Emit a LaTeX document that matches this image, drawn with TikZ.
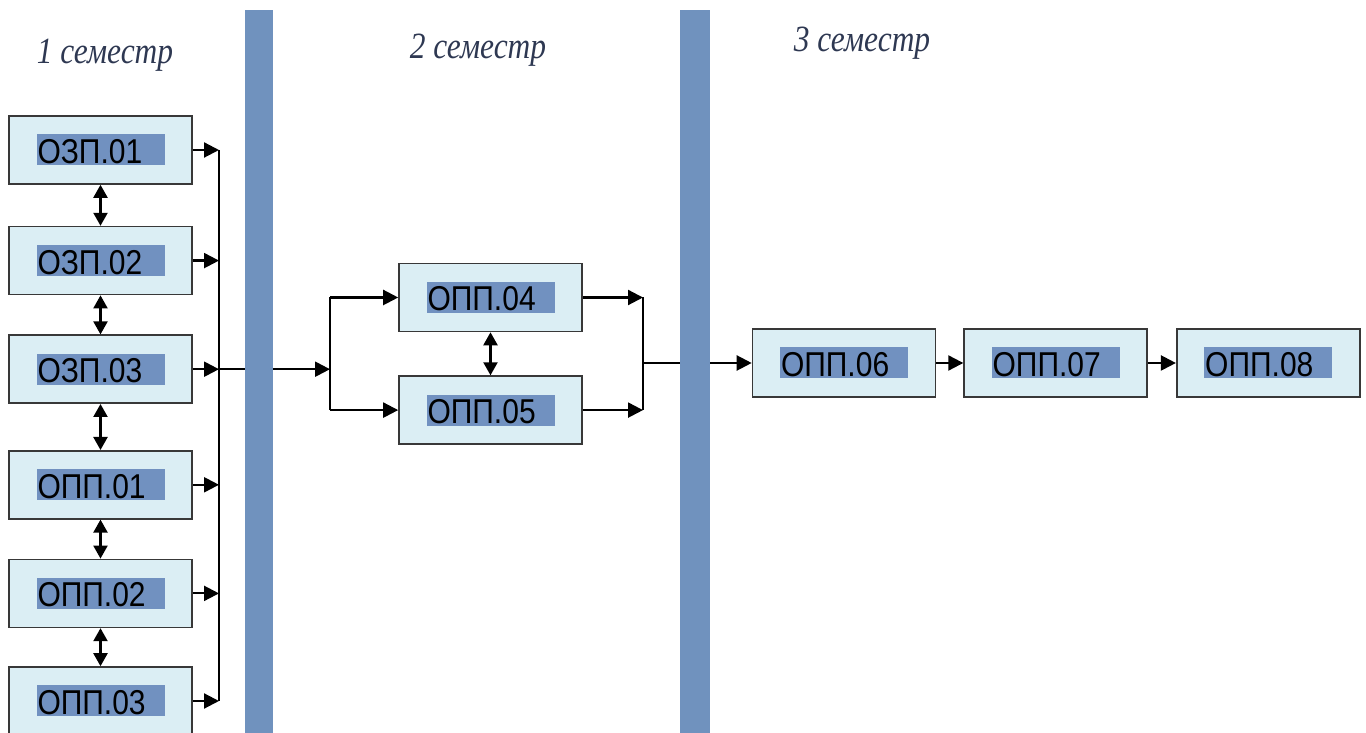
\documentclass[tikz,border=0pt]{standalone}
\usepackage{fontspec}
\setmainfont{Liberation Serif}
\newfontfamily\boxfont{Liberation Sans}
\usetikzlibrary{arrows.meta,positioning}
\definecolor{boxfill}{HTML}{DBEEF4}
\definecolor{hlblue}{HTML}{7191C0}
\definecolor{barblue}{HTML}{7092BE}
\definecolor{semtext}{HTML}{2E3852}
\definecolor{boxline}{HTML}{383838}
\newcommand{\hltext}[1]{{\setlength{\fboxsep}{0pt}\colorbox{hlblue}{\makebox[128pt][l]{\hspace{1pt}\rule[-2pt]{0pt}{31pt}\scalebox{1}[1.15]{#1}}}}}
\newcommand{\semlabel}[1]{\scalebox{0.85}[1]{#1}}
\tikzset{
block/.style={rectangle, draw=boxline, line width=1.6pt, fill=boxfill, minimum width=183pt, minimum height=68pt, inner sep=0pt, font=\boxfont\fontsize{30}{34}\selectfont},
bar/.style={rectangle, fill=barblue, minimum width=28pt, minimum height=723pt, inner sep=0pt},
sem/.style={text=semtext, font=\fontsize{37}{40}\selectfont\itshape},
line/.style={draw, line width=2.2pt, -{Triangle[length=15pt, width=15pt]}},
dbl/.style={draw, line width=2.2pt, {Triangle[length=13pt, width=14pt]}-{Triangle[length=13pt, width=14pt]}},
bus/.style={draw, line width=1.8pt}
}

\begin{document}
\begin{tikzpicture}[x=1pt, y=1pt, node distance=41pt]
    \useasboundingbox (0,0) rectangle (1366,733);
    % Semester labels
    \node [sem] (sem1) at (105,678) {\semlabel{1 семестр}};
    \node [sem] (sem2) at (478,683) {\semlabel{2 семестр}};
    \node [sem] (sem3) at (862,690) {\semlabel{3 семестр}};
    % Semester bars
    \node [bar] (bar1) at (259,361.5) {};
    \node [bar, minimum width=30pt] (bar2) at (695,361.5) {};
    % First semester
    \node [block] (ozp1) at (100.5,583) {\hltext{ОЗП.01}};
    \node [block, below=41pt of ozp1] (ozp2) {\hltext{ОЗП.02}};
    \node [block, below=39pt of ozp2] (ozp3) {\hltext{ОЗП.03}};
    \node [block, below=46pt of ozp3] (opp1) {\hltext{ОПП.01}};
    \node [block, below=39pt of opp1] (opp2) {\hltext{ОПП.02}};
    \node [block, below=38pt of opp2] (opp3) {\hltext{ОПП.03}};
    % Second semester
    \node [block] (opp4) at (490.5,435.5) {\hltext{ОПП.04}};
    \node [block, below=43pt of opp4] (opp5) {\hltext{ОПП.05}};
    % Third semester
    \node [block] (opp6) at (844,370) {\hltext{ОПП.06}};
    \node [block, right=27pt of opp6] (opp7) {\hltext{ОПП.07}};
    \node [block, right=28pt of opp7] (opp8) {\hltext{ОПП.08}};
    % Bus lines
    \coordinate (busA) at (219,0);
    \coordinate (busB) at (330,0);
    \coordinate (busC) at (643,0);
    % Draw edges
    \path [dbl] (ozp1) -- (ozp2);
    \path [dbl] (ozp2) -- (ozp3);
    \path [dbl] (ozp3) -- (opp1);
    \path [dbl] (opp1) -- (opp2);
    \path [dbl] (opp2) -- (opp3);
    \path [dbl] (opp4) -- (opp5);
    \foreach \n in {ozp1,ozp2,ozp3,opp1,opp2,opp3}
        \path [line] (\n) -- (\n -| busA);
    \path [bus] (ozp1 -| busA) -- (opp3 -| busA);
    \path [bus] (ozp3 -| busA) -- (ozp3 -| bar1.west);
    \path [line] (ozp3 -| bar1.east) -- (ozp3 -| busB);
    \path [bus] (opp4 -| busB) -- (opp5 -| busB);
    \path [line] (opp4 -| busB) -- (opp4);
    \path [line] (opp5 -| busB) -- (opp5);
    \path [line] (opp4) -- (opp4 -| busC);
    \path [line] (opp5) -- (opp5 -| busC);
    \path [bus] (opp4 -| busC) -- (opp5 -| busC);
    \path [bus] (opp6 -| busC) -- (opp6 -| bar2.west);
    \path [line] (opp6 -| bar2.east) -- (opp6);
    \path [line] (opp6) -- (opp7);
    \path [line] (opp7) -- (opp8);
\end{tikzpicture}
\end{document}
